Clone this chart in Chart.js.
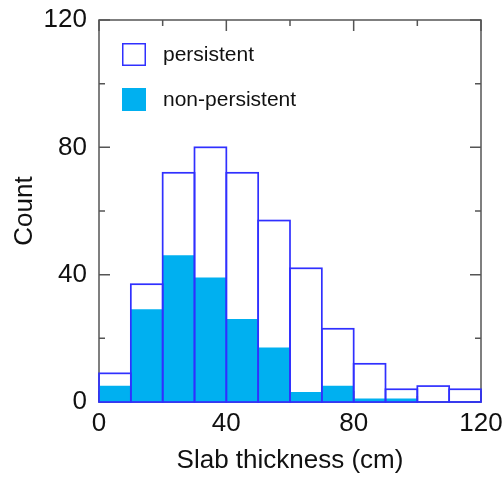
<!DOCTYPE html>
<html>
<head>
<meta charset="utf-8">
<script src="https://cdn.jsdelivr.net/npm/chart.js@4/dist/chart.umd.min.js"></script>
<style>
  html, body { margin: 0; padding: 0; background: #fff; }
  #wrap { width: 503px; height: 478px; position: relative; }
</style>
</head>
<body>
<div id="wrap"><canvas id="myChart"></canvas></div>
<script>
// bin centres (cm), 10 cm bins from 0 to 120
const binCenters = [5, 15, 25, 35, 45, 55, 65, 75, 85, 95, 105, 115];
const persistent = [9, 37, 72, 80, 72, 57, 42, 23, 12, 4, 5, 4];
const nonPersistent = [5, 29, 46, 39, 26, 17, 3, 5, 1, 1, 0, 0];
const majorTicks = [0, 40, 80, 120];
const minorTicks = [20, 60, 100];

const FONT = "'Liberation Sans', Arial, sans-serif";
const frameColor = "#555555";
const edgeBlue = "#3030ff";
const fillBlue = "#00b0f0";
const edgeWidth = 1.7;

// box frame with inward ticks on all 4 sides
const framePlugin = {
  id: "frame",
  beforeDatasetsDraw(chart) {
    const { ctx, chartArea: a, scales } = chart;
    ctx.save();
    ctx.strokeStyle = frameColor;
    ctx.lineWidth = 1.5;
    ctx.strokeRect(a.left, a.top, a.right - a.left, a.bottom - a.top);
    const tick = (v, len) => {
      const x = scales.x.getPixelForValue(v);
      const y = scales.y.getPixelForValue(v);
      ctx.beginPath();
      ctx.moveTo(x, a.bottom); ctx.lineTo(x, a.bottom - len);
      ctx.moveTo(x, a.top); ctx.lineTo(x, a.top + len);
      ctx.moveTo(a.left, y); ctx.lineTo(a.left + len, y);
      ctx.moveTo(a.right, y); ctx.lineTo(a.right - len, y);
      ctx.stroke();
    };
    majorTicks.forEach((v) => tick(v, 11));
    minorTicks.forEach((v) => tick(v, 6));
    ctx.restore();
  },
  afterDatasetsDraw(chart) {
    // outline the persistent bars with centred strokes so neighbours share one edge
    const { ctx } = chart;
    const meta = chart.getDatasetMeta(0);
    ctx.save();
    ctx.strokeStyle = edgeBlue;
    ctx.lineWidth = edgeWidth;
    meta.data.forEach((bar) => {
      const { x, y, base, width } = bar.getProps(["x", "y", "base", "width"], true);
      ctx.strokeRect(x - width / 2, y, width, base - y);
    });
    ctx.restore();
  },
  afterDraw(chart) {
    // legend inside the plot, top left
    const { ctx, chartArea: a } = chart;
    const ds = chart.data.datasets;
    ctx.save();
    ctx.font = "21px " + FONT;
    ctx.textBaseline = "middle";
    ds.forEach((d, i) => {
      const bx = a.left + 23, by = a.top + 23 + i * 45;
      if (i === 0) {
        ctx.strokeStyle = edgeBlue;
        ctx.lineWidth = 1.5;
        ctx.strokeRect(bx + 0.75, by + 0.75, 22.5, 21.5);
      } else {
        ctx.fillStyle = d.backgroundColor;
        ctx.fillRect(bx, by, 24, 23);
      }
      ctx.fillStyle = "#111";
      ctx.fillText(d.label, a.left + 64, by + 12);
    });
    ctx.restore();
  },
};

const ctx = document.getElementById("myChart").getContext("2d");
const chart = new Chart(ctx, {
  type: "bar",
  data: {
    datasets: [
      {
        label: "persistent",
        data: binCenters.map((x, i) => ({ x: x, y: persistent[i] })),
        backgroundColor: "rgba(0,0,0,0)",
        borderWidth: 0,
        order: 0,
      },
      {
        label: "non-persistent",
        data: binCenters.map((x, i) => ({ x: x, y: nonPersistent[i] })),
        backgroundColor: fillBlue,
        borderWidth: 0,
        order: 1,
      },
    ],
  },
  options: {
    responsive: true,
    maintainAspectRatio: false,
    animation: false,
    grouped: false,
    barPercentage: 1,
    categoryPercentage: 1,
    layout: { padding: { left: 0, top: 20, right: 22, bottom: 0 } },
    plugins: { legend: { display: false }, tooltip: { enabled: false } },
    scales: {
      x: {
        type: "linear",
        min: 0,
        max: 120,
        offset: false,
        border: { display: false },
        grid: { display: false, drawTicks: false },
        ticks: { stepSize: 40, padding: 6, color: "#111", font: { family: FONT, size: 26 } },
        title: {
          display: true,
          text: "Slab thickness (cm)",
          color: "#111",
          font: { family: FONT, size: 26 },
          padding: { top: 0, bottom: 1.5 },
        },
        afterFit(s) { s.height = 76; s.paddingLeft = 0; s.paddingRight = 0; },
      },
      y: {
        min: 0,
        max: 120,
        border: { display: false },
        grid: { display: false, drawTicks: false },
        ticks: { stepSize: 40, padding: 12, color: "#111", font: { family: FONT, size: 26 } },
        title: {
          display: true,
          text: "Count",
          color: "#111",
          font: { family: FONT, size: 26 },
          padding: { top: 9, bottom: 0 },
        },
        afterFit(s) { s.width = 99; s.paddingTop = 0; s.paddingBottom = 0; },
      },
    },
  },
  plugins: [framePlugin],
});
</script>
</body>
</html>
